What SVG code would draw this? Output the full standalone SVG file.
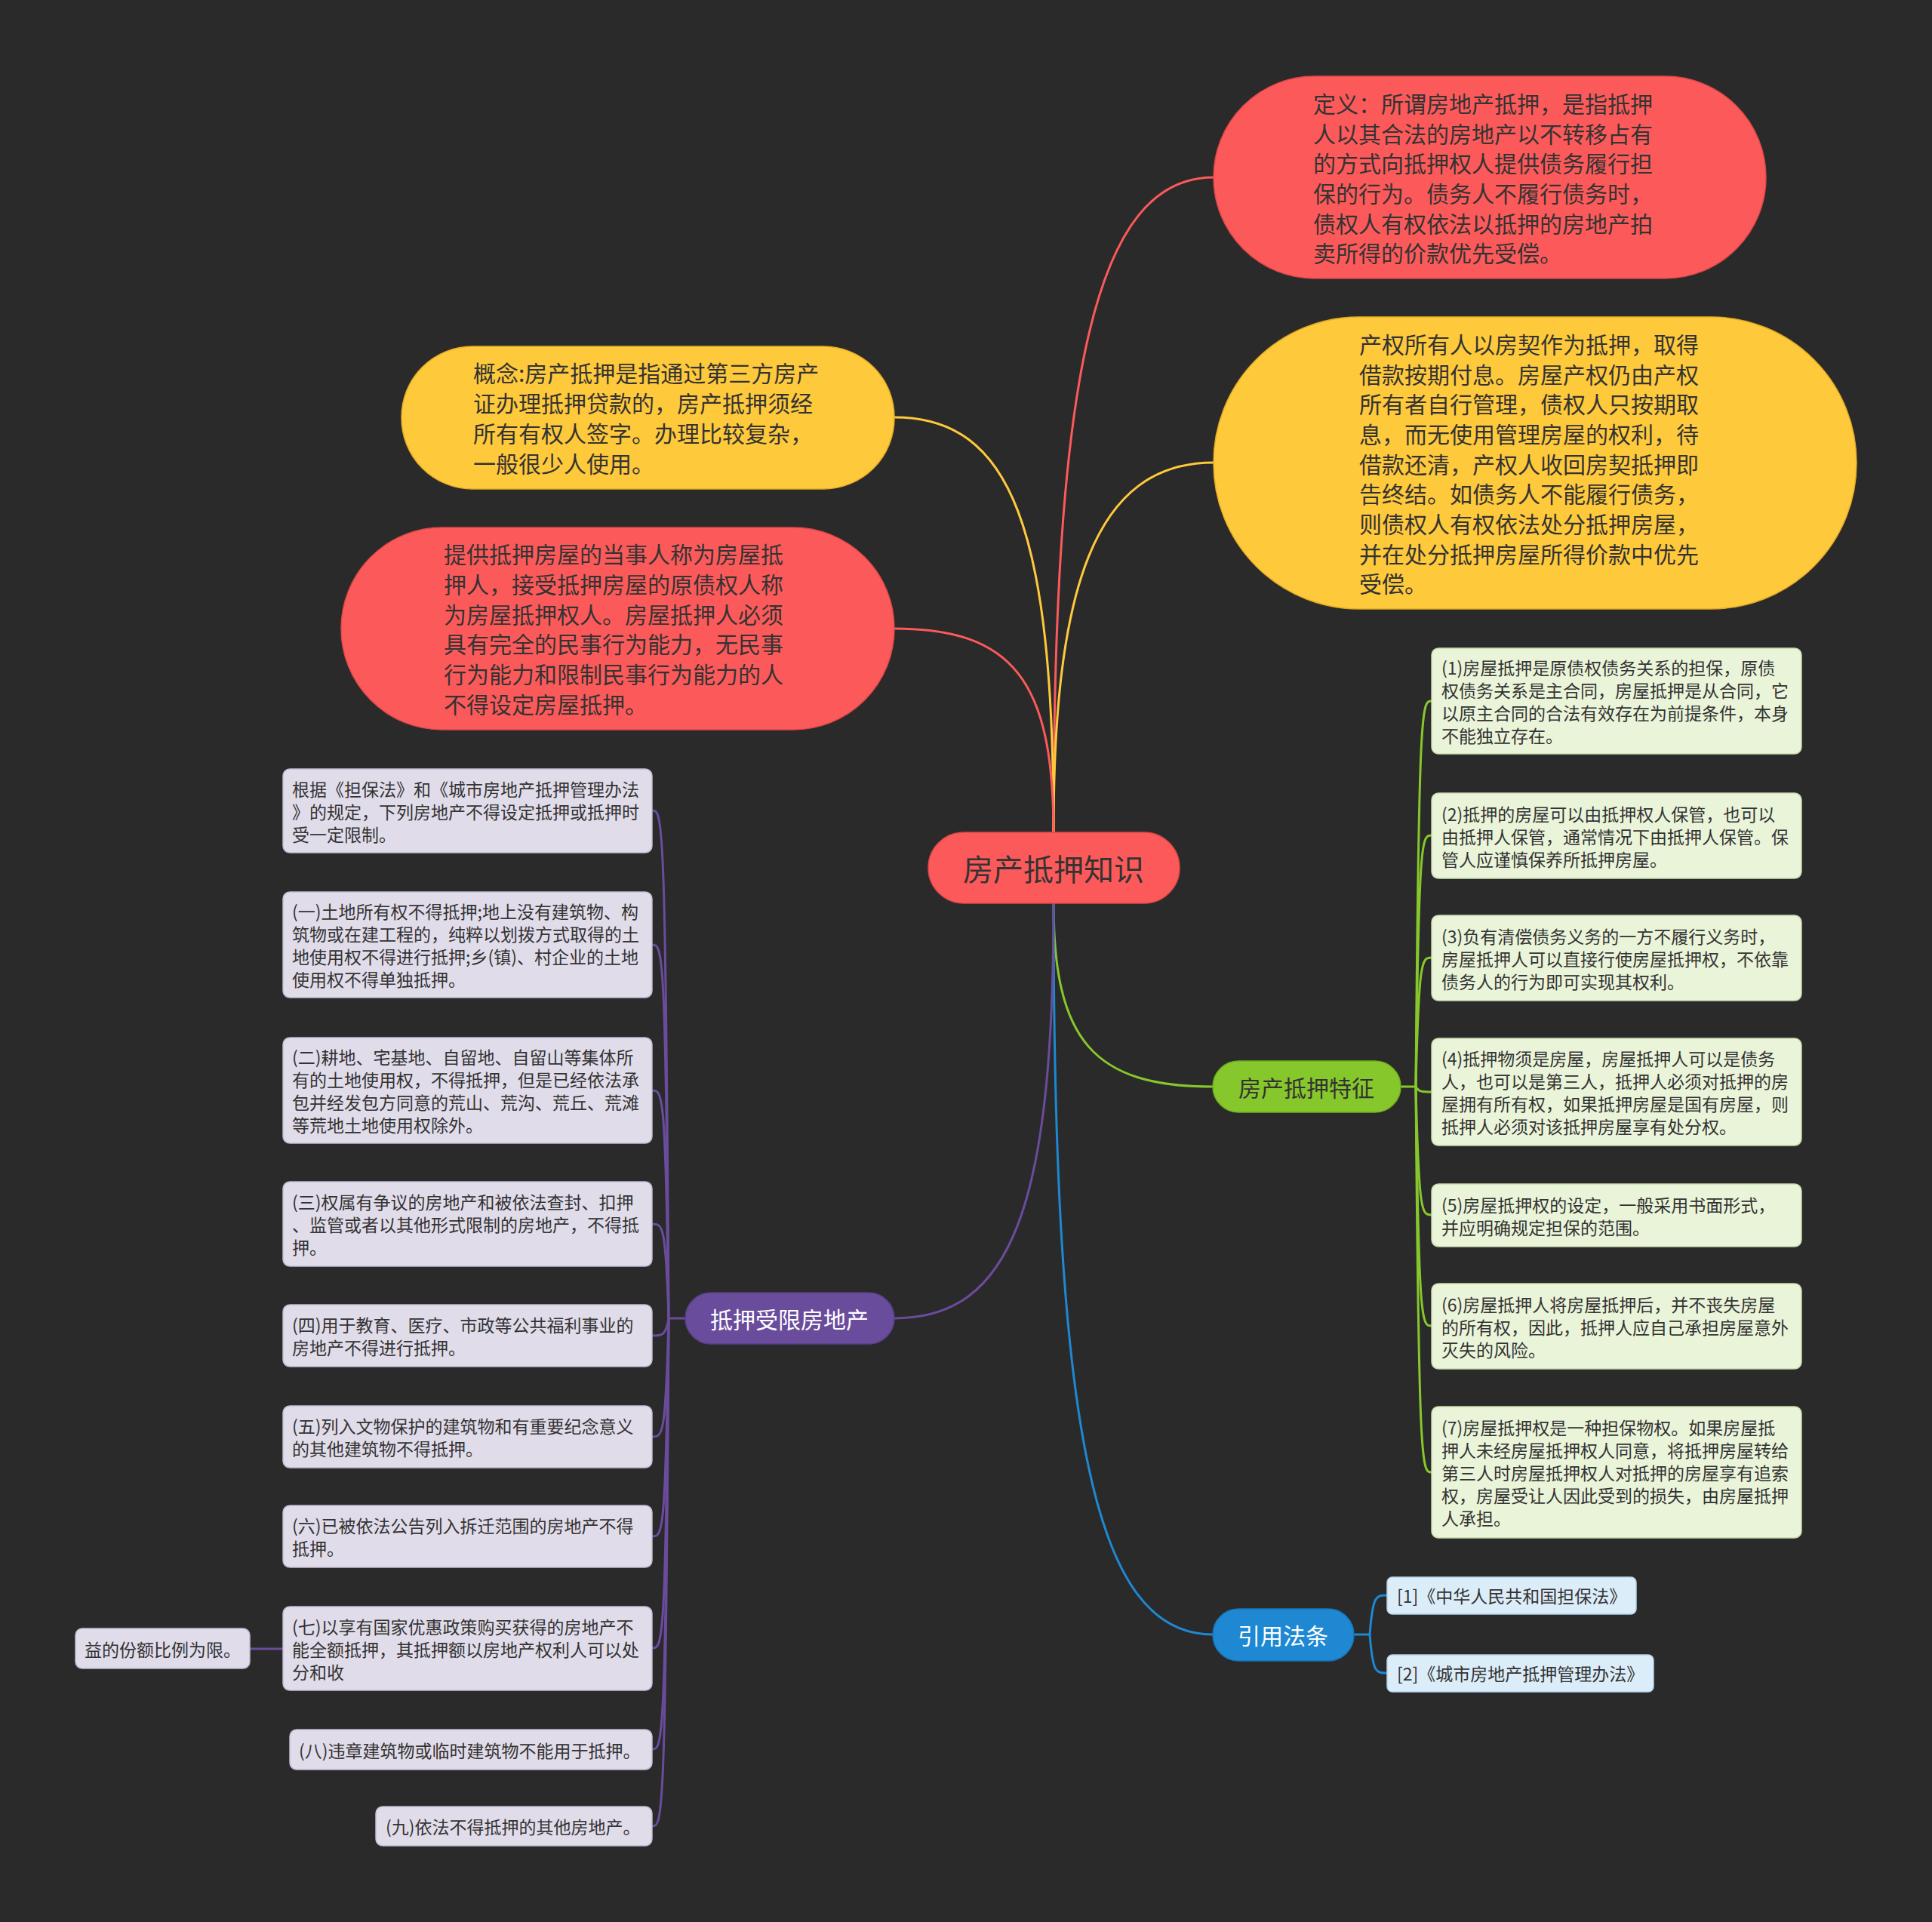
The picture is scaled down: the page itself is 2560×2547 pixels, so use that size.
<svg xmlns="http://www.w3.org/2000/svg" width="2560" height="2547" viewBox="0 0 2560 2547">
<style>
text{font-family:"Noto Sans CJK SC","Noto Sans",sans-serif;dominant-baseline:central;fill:#333333}
.big{font-size:30px}
.sm{font-size:23px}
.root{font-size:40px}
.wt{fill:#ffffff}
.red{fill:#fc5a5a;stroke:#e04848;stroke-width:1.5}
.yel{fill:#ffc93c;stroke:#e3ac24;stroke-width:1.5}
.grn{fill:#86c72c;stroke:#6fae1c;stroke-width:1.5}
.pur{fill:#6a4c9c;stroke:#58408a;stroke-width:1.5}
.blu{fill:#1e88d2;stroke:#1673b5;stroke-width:1.5}
.lg{fill:#eaf4d9;stroke:#c9d9b0;stroke-width:1.5}
.lp{fill:#e1dcea;stroke:#c2bad2;stroke-width:1.5}
.lb{fill:#dcedfa;stroke:#b3d2ea;stroke-width:1.5}
.c{fill:none;stroke-width:3;stroke-linecap:round}
.cr{stroke:#fc5a5a}.cy{stroke:#ffc93c}.cg{stroke:#86c72c}.cp{stroke:#6a4c9c}.cb{stroke:#1e88d2}
</style>
<rect x="0" y="0" width="2560" height="2547" fill="#2a2a2a"/>
<g id="connectors">
<path class="c cr" d="M1396 1103 C1396 500 1450 235 1608 235"/>
<path class="c cy" d="M1396 1103 C1396 780 1450 613 1608 613"/>
<path class="c cy" d="M1396 1103 C1396 700 1340 553 1185 553"/>
<path class="c cr" d="M1396 1103 C1396 900 1340 833 1185 833"/>
<path class="c cg" d="M1396 1197 C1396 1380 1450 1440 1607 1440"/>
<path class="c cb" d="M1396 1197 C1396 1900 1450 2166 1607 2166"/>
<path class="c cp" d="M1396 1197 C1396 1600 1340 1747 1185 1747"/>
<path class="c cg" d="M1856 1440 L1876 1440"/>
<path class="c cg" d="M1876 1440 C1880 929 1884 929 1897 929"/>
<path class="c cg" d="M1876 1440 C1880 1107 1884 1107 1897 1107"/>
<path class="c cg" d="M1876 1440 C1880 1269 1884 1269 1897 1269"/>
<path class="c cg" d="M1876 1440 C1880 1447 1884 1447 1897 1447"/>
<path class="c cg" d="M1876 1440 C1880 1610 1884 1610 1897 1610"/>
<path class="c cg" d="M1876 1440 C1880 1757 1884 1757 1897 1757"/>
<path class="c cg" d="M1876 1440 C1880 1951 1884 1951 1897 1951"/>
<path class="c cb" d="M1794 2166 L1815 2166"/>
<path class="c cb" d="M1815 2166 C1819 2114 1823 2114 1838 2114"/>
<path class="c cb" d="M1815 2166 C1819 2217 1823 2217 1838 2217"/>
<path class="c cp" d="M908 1747 L886 1747"/>
<path class="c cp" d="M886 1747 C882 1074 878 1074 864 1074"/>
<path class="c cp" d="M886 1747 C882 1252 878 1252 864 1252"/>
<path class="c cp" d="M886 1747 C882 1445 878 1445 864 1445"/>
<path class="c cp" d="M886 1747 C882 1622 878 1622 864 1622"/>
<path class="c cp" d="M886 1747 C882 1770 878 1770 864 1770"/>
<path class="c cp" d="M886 1747 C882 1904 878 1904 864 1904"/>
<path class="c cp" d="M886 1747 C882 2036 878 2036 864 2036"/>
<path class="c cp" d="M886 1747 C882 2184 878 2184 864 2184"/>
<path class="c cp" d="M886 1747 C882 2318 878 2318 864 2318"/>
<path class="c cp" d="M886 1747 C882 2420 878 2420 864 2420"/>
<path class="c cp" d="M375 2185 L331 2185"/>
</g>
<g id="root">
<rect class="red" x="1230" y="1103" width="333" height="94" rx="47"/>
<text class="root" x="1396" y="1150" text-anchor="middle">房产抵押知识</text>
</g>
<g id="n-def">
<rect class="red" x="1608" y="101" width="732" height="268" rx="134"/>
<text class="big" x="1740"><tspan x="1740" y="136">定义：所谓房地产抵押，是指抵押</tspan><tspan x="1740" y="175.5">人以其合法的房地产以不转移占有</tspan><tspan x="1740" y="215">的方式向抵押权人提供债务履行担</tspan><tspan x="1740" y="255">保的行为。债务人不履行债务时，</tspan><tspan x="1740" y="294.5">债权人有权依法以抵押的房地产拍</tspan><tspan x="1740" y="334">卖所得的价款优先受偿。</tspan></text>
</g>
<g id="n-chanquan">
<rect class="yel" x="1608" y="420" width="852" height="387" rx="193"/>
<text class="big" x="1801"><tspan x="1801" y="455">产权所有人以房契作为抵押，取得</tspan><tspan x="1801" y="494.5">借款按期付息。房屋产权仍由产权</tspan><tspan x="1801" y="534">所有者自行管理，债权人只按期取</tspan><tspan x="1801" y="574">息，而无使用管理房屋的权利，待</tspan><tspan x="1801" y="613.5">借款还清，产权人收回房契抵押即</tspan><tspan x="1801" y="653">告终结。如债务人不能履行债务，</tspan><tspan x="1801" y="693">则债权人有权依法处分抵押房屋，</tspan><tspan x="1801" y="733">并在处分抵押房屋所得价款中优先</tspan><tspan x="1801" y="772">受偿。</tspan></text>
</g>
<g id="n-gainian">
<rect class="yel" x="532" y="459" width="653" height="189" rx="94"/>
<text class="big" x="627"><tspan x="627" y="493">概念:房产抵押是指通过第三方房产</tspan><tspan x="627" y="533">证办理抵押贷款的，房产抵押须经</tspan><tspan x="627" y="573">所有有权人签字。办理比较复杂，</tspan><tspan x="627" y="613">一般很少人使用。</tspan></text>
</g>
<g id="n-tigong">
<rect class="red" x="452" y="699" width="733" height="268" rx="134"/>
<text class="big" x="588"><tspan x="588" y="733">提供抵押房屋的当事人称为房屋抵</tspan><tspan x="588" y="773">押人，接受抵押房屋的原债权人称</tspan><tspan x="588" y="813">为房屋抵押权人。房屋抵押人必须</tspan><tspan x="588" y="852">具有完全的民事行为能力，无民事</tspan><tspan x="588" y="892">行为能力和限制民事行为能力的人</tspan><tspan x="588" y="932">不得设定房屋抵押。</tspan></text>
</g>
<g id="n-tezheng">
<rect class="grn" x="1607" y="1406" width="249" height="68" rx="34"/>
<text class="big" x="1731" y="1440" text-anchor="middle">房产抵押特征</text>
</g>
<g id="n-t1">
<rect class="lg" x="1897" y="859" width="490" height="140" rx="9"/>
<text class="sm" x="1910"><tspan x="1910" y="884">(1)房屋抵押是原债权债务关系的担保，原债</tspan><tspan x="1910" y="914">权债务关系是主合同，房屋抵押是从合同，它</tspan><tspan x="1910" y="944">以原主合同的合法有效存在为前提条件，本身</tspan><tspan x="1910" y="974">不能独立存在。</tspan></text>
</g>
<g id="n-t2">
<rect class="lg" x="1897" y="1051" width="490" height="113" rx="9"/>
<text class="sm" x="1910"><tspan x="1910" y="1077.5">(2)抵押的房屋可以由抵押权人保管，也可以</tspan><tspan x="1910" y="1107.5">由抵押人保管，通常情况下由抵押人保管。保</tspan><tspan x="1910" y="1137.5">管人应谨慎保养所抵押房屋。</tspan></text>
</g>
<g id="n-t3">
<rect class="lg" x="1897" y="1213" width="490" height="113" rx="9"/>
<text class="sm" x="1910"><tspan x="1910" y="1239.5">(3)负有清偿债务义务的一方不履行义务时，</tspan><tspan x="1910" y="1269.5">房屋抵押人可以直接行使房屋抵押权，不依靠</tspan><tspan x="1910" y="1299.5">债务人的行为即可实现其权利。</tspan></text>
</g>
<g id="n-t4">
<rect class="lg" x="1897" y="1376" width="490" height="142" rx="9"/>
<text class="sm" x="1910"><tspan x="1910" y="1402">(4)抵押物须是房屋，房屋抵押人可以是债务</tspan><tspan x="1910" y="1432">人，也可以是第三人，抵押人必须对抵押的房</tspan><tspan x="1910" y="1462">屋拥有所有权，如果抵押房屋是国有房屋，则</tspan><tspan x="1910" y="1492">抵押人必须对该抵押房屋享有处分权。</tspan></text>
</g>
<g id="n-t5">
<rect class="lg" x="1897" y="1569" width="490" height="83" rx="9"/>
<text class="sm" x="1910"><tspan x="1910" y="1595.5">(5)房屋抵押权的设定，一般采用书面形式，</tspan><tspan x="1910" y="1625.5">并应明确规定担保的范围。</tspan></text>
</g>
<g id="n-t6">
<rect class="lg" x="1897" y="1701" width="490" height="113" rx="9"/>
<text class="sm" x="1910"><tspan x="1910" y="1727.5">(6)房屋抵押人将房屋抵押后，并不丧失房屋</tspan><tspan x="1910" y="1757.5">的所有权，因此，抵押人应自己承担房屋意外</tspan><tspan x="1910" y="1787.5">灭失的风险。</tspan></text>
</g>
<g id="n-t7">
<rect class="lg" x="1897" y="1864" width="490" height="174" rx="9"/>
<text class="sm" x="1910"><tspan x="1910" y="1891">(7)房屋抵押权是一种担保物权。如果房屋抵</tspan><tspan x="1910" y="1921">押人未经房屋抵押权人同意，将抵押房屋转给</tspan><tspan x="1910" y="1951">第三人时房屋抵押权人对抵押的房屋享有追索</tspan><tspan x="1910" y="1981">权，房屋受让人因此受到的损失，由房屋抵押</tspan><tspan x="1910" y="2011">人承担。</tspan></text>
</g>
<g id="n-yinyong">
<rect class="blu" x="1607" y="2132" width="187" height="69" rx="34"/>
<text class="big wt" x="1700" y="2166" text-anchor="middle">引用法条</text>
</g>
<g id="n-r1">
<rect class="lb" x="1838" y="2090" width="330" height="49" rx="7"/>
<text class="sm" x="1851" y="2114">[1]《中华人民共和国担保法》</text>
</g>
<g id="n-r2">
<rect class="lb" x="1838" y="2193" width="353" height="49" rx="7"/>
<text class="sm" x="1851" y="2217">[2]《城市房地产抵押管理办法》</text>
</g>
<g id="n-shouxian">
<rect class="pur" x="908" y="1713" width="277" height="68" rx="34"/>
<text class="big wt" x="1046" y="1747" text-anchor="middle">抵押受限房地产</text>
</g>
<g id="n-p0">
<rect class="lp" x="375" y="1019" width="489" height="111" rx="9"/>
<text class="sm" x="387"><tspan x="387" y="1044.5">根据《担保法》和《城市房地产抵押管理办法</tspan><tspan x="387" y="1074.5">》的规定，下列房地产不得设定抵押或抵押时</tspan><tspan x="387" y="1104.5">受一定限制。</tspan></text>
</g>
<g id="n-p1">
<rect class="lp" x="375" y="1182" width="489" height="140" rx="9"/>
<text class="sm" x="387"><tspan x="387" y="1207">(一)土地所有权不得抵押;地上没有建筑物、构</tspan><tspan x="387" y="1237">筑物或在建工程的，纯粹以划拨方式取得的土</tspan><tspan x="387" y="1267">地使用权不得进行抵押;乡(镇)、村企业的土地</tspan><tspan x="387" y="1297">使用权不得单独抵押。</tspan></text>
</g>
<g id="n-p2">
<rect class="lp" x="375" y="1375" width="489" height="140" rx="9"/>
<text class="sm" x="387"><tspan x="387" y="1400">(二)耕地、宅基地、自留地、自留山等集体所</tspan><tspan x="387" y="1430">有的土地使用权，不得抵押，但是已经依法承</tspan><tspan x="387" y="1460">包并经发包方同意的荒山、荒沟、荒丘、荒滩</tspan><tspan x="387" y="1490">等荒地土地使用权除外。</tspan></text>
</g>
<g id="n-p3">
<rect class="lp" x="375" y="1566" width="489" height="112" rx="9"/>
<text class="sm" x="387"><tspan x="387" y="1592">(三)权属有争议的房地产和被依法查封、扣押</tspan><tspan x="387" y="1622">、监管或者以其他形式限制的房地产，不得抵</tspan><tspan x="387" y="1652">押。</tspan></text>
</g>
<g id="n-p4">
<rect class="lp" x="375" y="1729" width="489" height="82" rx="9"/>
<text class="sm" x="387"><tspan x="387" y="1755">(四)用于教育、医疗、市政等公共福利事业的</tspan><tspan x="387" y="1785">房地产不得进行抵押。</tspan></text>
</g>
<g id="n-p5">
<rect class="lp" x="375" y="1863" width="489" height="82" rx="9"/>
<text class="sm" x="387"><tspan x="387" y="1889">(五)列入文物保护的建筑物和有重要纪念意义</tspan><tspan x="387" y="1919">的其他建筑物不得抵押。</tspan></text>
</g>
<g id="n-p6">
<rect class="lp" x="375" y="1995" width="489" height="82" rx="9"/>
<text class="sm" x="387"><tspan x="387" y="2021">(六)已被依法公告列入拆迁范围的房地产不得</tspan><tspan x="387" y="2051">抵押。</tspan></text>
</g>
<g id="n-p7">
<rect class="lp" x="375" y="2129" width="489" height="111" rx="9"/>
<text class="sm" x="387"><tspan x="387" y="2154.5">(七)以享有国家优惠政策购买获得的房地产不</tspan><tspan x="387" y="2184.5">能全额抵押，其抵押额以房地产权利人可以处</tspan><tspan x="387" y="2214.5">分和收</tspan></text>
</g>
<g id="n-p7b">
<rect class="lp" x="100" y="2158" width="231" height="53" rx="9"/>
<text class="sm" x="112" y="2184.5">益的份额比例为限。</text>
</g>
<g id="n-p8">
<rect class="lp" x="384" y="2292" width="480" height="53" rx="9"/>
<text class="sm" x="396" y="2318.5">(八)违章建筑物或临时建筑物不能用于抵押。</text>
</g>
<g id="n-p9">
<rect class="lp" x="498" y="2394" width="366" height="52" rx="9"/>
<text class="sm" x="511" y="2420">(九)依法不得抵押的其他房地产。</text>
</g>
</svg>
